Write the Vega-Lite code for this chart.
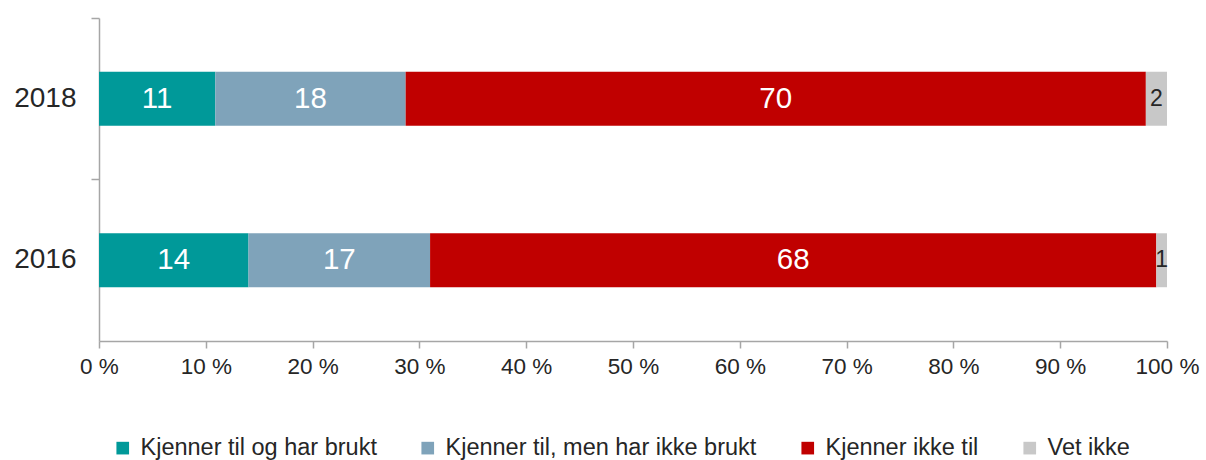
{
  "$schema": "https://vega.github.io/schema/vega-lite/v6.json",
  "width": 1068,
  "height": 323,
  "padding": {"left": 13, "top": 17, "right": 8, "bottom": 0},
  "autosize": {"type": "pad"},
  "background": "white",
  "config": {
    "view": {"stroke": null},
    "font": "Liberation Sans",
    "axis": {"labelFont": "Liberation Sans", "labelColor": "#262626", "domainColor": "#a6a6a6", "tickColor": "#a6a6a6", "domainWidth": 1.5, "tickWidth": 1.5, "grid": false}
  },
  "data": {
    "values": [
      {"year": "2018", "cat": "Kjenner til og har brukt", "idx": 1, "v": 11},
      {"year": "2018", "cat": "Kjenner til, men har ikke brukt", "idx": 2, "v": 18},
      {"year": "2018", "cat": "Kjenner ikke til", "idx": 3, "v": 70},
      {"year": "2018", "cat": "Vet ikke", "idx": 4, "v": 2},
      {"year": "2016", "cat": "Kjenner til og har brukt", "idx": 1, "v": 14},
      {"year": "2016", "cat": "Kjenner til, men har ikke brukt", "idx": 2, "v": 17},
      {"year": "2016", "cat": "Kjenner ikke til", "idx": 3, "v": 68},
      {"year": "2016", "cat": "Vet ikke", "idx": 4, "v": 1}
    ]
  },
  "resolve": {"axis": {"y": "independent"}},
  "layer": [
    {
      "mark": {"type": "bar"},
      "encoding": {
        "y": {
          "field": "year", "type": "nominal", "sort": ["2018", "2016"],
          "scale": {"paddingInner": 0.666, "paddingOuter": 0.333},
          "axis": {"title": null, "orient": "left", "labelFontSize": 28, "labelPadding": 23, "ticks": false, "labelAngle": 0}
        },
        "order": {"field": "idx", "type": "quantitative"},
        "x": {
          "field": "v", "type": "quantitative", "stack": "normalize",
          "scale": {"domain": [0, 1], "nice": false},
          "axis": {"title": null, "values": [0, 0.1, 0.2, 0.3, 0.4, 0.5, 0.6, 0.7, 0.8, 0.9, 1], "format": ".0%", "labelExpr": "replace(datum.label, '%', ' %')", "labelFontSize": 22.5, "tickSize": 7, "labelPadding": 7, "labelFlush": false}
        },
        "color": {
          "field": "cat", "type": "nominal",
          "scale": {
            "domain": ["Kjenner til og har brukt", "Kjenner til, men har ikke brukt", "Kjenner ikke til", "Vet ikke"],
            "range": ["#009999", "#7fa3ba", "#c00000", "#c8c8c8"]
          },
          "legend": {
            "title": null, "orient": "none", "direction": "horizontal", "legendX": 12, "legendY": 418,
            "symbolType": "square", "symbolSize": 160, "symbolStrokeWidth": 0,
            "labelFontSize": 23.5, "labelFont": "Liberation Sans", "labelColor": "#262626",
            "columnPadding": 39, "labelOffset": 6, "labelLimit": 600
          }
        }
      }
    },
    {
      "mark": {"type": "text", "align": "center", "baseline": "middle", "font": "Liberation Sans"},
      "encoding": {
        "y": {
          "field": "year", "type": "nominal", "sort": ["2018", "2016"],
          "axis": {"title": null, "orient": "left", "labels": false, "domain": false, "ticks": true, "tickSize": 8, "tickOffset": -80.75}
        },
        "order": {"field": "idx", "type": "quantitative"},
        "x": {"field": "v", "type": "quantitative", "stack": "normalize", "bandPosition": 0.5},
        "text": {"field": "v", "type": "quantitative"},
        "color": {"condition": {"test": "datum.cat === 'Vet ikke'", "value": "#262626"}, "value": "white"},
        "size": {"condition": {"test": "datum.cat === 'Vet ikke'", "value": 23}, "value": 29.5}
      }
    }
  ]
}
